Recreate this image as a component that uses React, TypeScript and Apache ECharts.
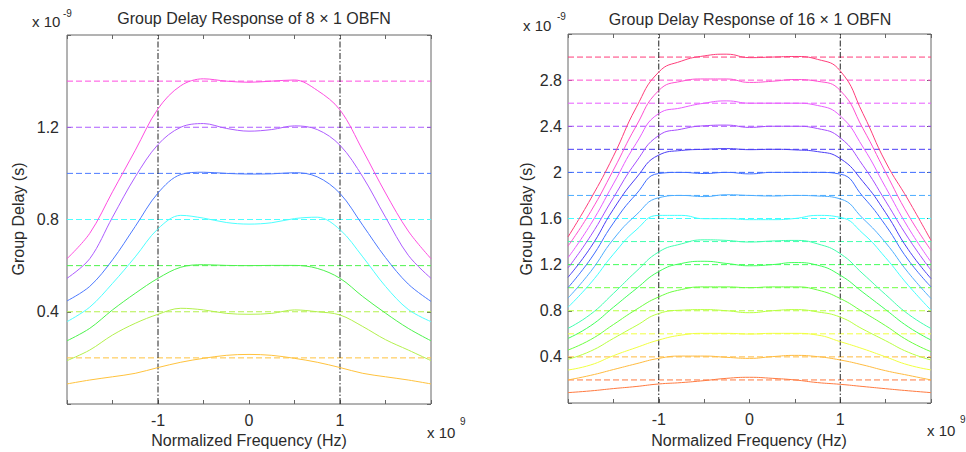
import React, { useEffect, useRef } from "react";
import * as echarts from "echarts";

// ---------- data ----------
const freq = [-2, -1.75, -1.5, -1.25, -1, -0.75, -0.5, -0.25, 0, 0.25, 0.5, 0.75, 1, 1.25, 1.5, 1.75, 2];
const passbandEdges = [-1, 1];

// 8 x 1 OBFN (units of 1e-9 s)
const levels8 = [0.2, 0.4, 0.6, 0.8, 1.0, 1.2, 1.4];
const gd8_02 = [0.087, 0.104, 0.118, 0.133, 0.158, 0.181, 0.198, 0.211, 0.215, 0.211, 0.198, 0.181, 0.158, 0.133, 0.118, 0.104, 0.087];
const gd8_04 = [0.188, 0.234, 0.299, 0.35, 0.389, 0.415, 0.408, 0.393, 0.389, 0.393, 0.408, 0.4, 0.386, 0.336, 0.279, 0.234, 0.188];
const gd8_06 = [0.274, 0.328, 0.408, 0.48, 0.545, 0.593, 0.604, 0.601, 0.6, 0.601, 0.601, 0.588, 0.545, 0.466, 0.394, 0.328, 0.274];
const gd8_08 = [0.357, 0.42, 0.523, 0.638, 0.76, 0.818, 0.806, 0.787, 0.78, 0.786, 0.804, 0.81, 0.756, 0.638, 0.51, 0.41, 0.357];
const gd8_10 = [0.447, 0.51, 0.625, 0.77, 0.915, 0.995, 1.005, 1.0, 0.997, 0.998, 1.003, 0.985, 0.913, 0.775, 0.635, 0.52, 0.445];
const gd8_12 = [0.545, 0.63, 0.81, 0.985, 1.125, 1.2, 1.216, 1.195, 1.183, 1.19, 1.206, 1.19, 1.122, 0.985, 0.81, 0.645, 0.545];
const gd8_14 = [0.63, 0.74, 0.92, 1.1, 1.28, 1.38, 1.41, 1.4, 1.395, 1.4, 1.405, 1.36, 1.275, 1.1, 0.915, 0.75, 0.63];
const curves8 = [gd8_02, gd8_04, gd8_06, gd8_08, gd8_10, gd8_12, gd8_14];

// 16 x 1 OBFN (units of 1e-9 s)
const levels16 = [0.2, 0.4, 0.6, 0.8, 1.0, 1.2, 1.4, 1.6, 1.8, 2.0, 2.2, 2.4, 2.6, 2.8, 3.0];
const gd16_02 = [0.09, 0.105, 0.125, 0.143, 0.165, 0.177, 0.194, 0.214, 0.223, 0.214, 0.2, 0.177, 0.162, 0.143, 0.124, 0.106, 0.09];
const gd16_04 = [0.2, 0.24, 0.29, 0.34, 0.387, 0.407, 0.407, 0.396, 0.387, 0.402, 0.413, 0.402, 0.373, 0.33, 0.28, 0.24, 0.2];
const gd16_06 = [0.286, 0.33, 0.41, 0.48, 0.546, 0.589, 0.604, 0.604, 0.598, 0.604, 0.604, 0.589, 0.532, 0.47, 0.4, 0.33, 0.287];
const gd16_08 = [0.379, 0.45, 0.56, 0.67, 0.776, 0.805, 0.81, 0.8, 0.783, 0.8, 0.81, 0.79, 0.745, 0.64, 0.54, 0.44, 0.373];
const gd16_10 = [0.459, 0.55, 0.68, 0.81, 0.92, 0.984, 1.007, 1.007, 1.0, 1.007, 1.007, 0.98, 0.906, 0.79, 0.67, 0.54, 0.445];
const gd16_12 = [0.56, 0.67, 0.83, 0.99, 1.14, 1.21, 1.229, 1.21, 1.19, 1.2, 1.218, 1.195, 1.108, 0.96, 0.81, 0.66, 0.546];
const gd16_14 = [0.647, 0.77, 0.95, 1.14, 1.31, 1.38, 1.415, 1.41, 1.396, 1.405, 1.41, 1.38, 1.295, 1.12, 0.94, 0.77, 0.646];
const gd16_16 = [0.83, 1.04, 1.29, 1.5, 1.627, 1.627, 1.598, 1.598, 1.59, 1.59, 1.6, 1.627, 1.61, 1.47, 1.26, 1.02, 0.805];
const gd16_18 = [0.91, 1.14, 1.42, 1.63, 1.78, 1.8, 1.79, 1.806, 1.8, 1.795, 1.8, 1.795, 1.77, 1.6, 1.39, 1.13, 0.906];
const gd16_20 = [1.0, 1.25, 1.56, 1.81, 1.99, 2.0, 1.99, 2.0, 1.987, 2.0, 2.0, 2.0, 1.985, 1.79, 1.54, 1.24, 1.007];
const gd16_22 = [1.09, 1.35, 1.68, 1.95, 2.15, 2.19, 2.2, 2.206, 2.197, 2.2, 2.195, 2.18, 2.12, 1.92, 1.65, 1.33, 1.079];
const gd16_24 = [1.17, 1.45, 1.78, 2.09, 2.32, 2.375, 2.404, 2.41, 2.39, 2.4, 2.4, 2.38, 2.3, 2.06, 1.75, 1.43, 1.151];
const gd16_26 = [1.26, 1.55, 1.9, 2.25, 2.51, 2.56, 2.6, 2.62, 2.6, 2.6, 2.6, 2.58, 2.49, 2.22, 1.87, 1.52, 1.223];
const gd16_28 = [1.36, 1.66, 2.02, 2.4, 2.71, 2.79, 2.81, 2.81, 2.78, 2.79, 2.805, 2.79, 2.71, 2.38, 2.0, 1.63, 1.324];
const gd16_30 = [1.44, 1.77, 2.14, 2.56, 2.87, 2.965, 3.01, 3.025, 2.995, 3.0, 3.005, 2.98, 2.88, 2.51, 2.09, 1.76, 1.41];
const curves16 = [gd16_02, gd16_04, gd16_06, gd16_08, gd16_10, gd16_12, gd16_14, gd16_16, gd16_18, gd16_20, gd16_22, gd16_24, gd16_26, gd16_28, gd16_30];

// ---------- styles ----------
const colors8 = ["#ffc23d", "#b3f04d", "#4df24d", "#4dffff", "#4d7aff", "#ad5cff", "#ff4de0"];
const colors16 = [
  "#ff7a40", "#ffbb40", "#f0ff40", "#b8ff40", "#6cff40", "#40ff5a", "#40ffae", "#40ffff",
  "#4dadff", "#3d6bff", "#4a3df5", "#a64dff", "#e85cff", "#ff4fd0", "#ff3d7a",
];

const FONT = "'Liberation Sans', Arial, sans-serif";
const TXT = "#2b2b2b";
const AX = "#666666";

function buildOption() {
  const grids = [
    { left: 67, top: 35, width: 364, height: 369, show: true, borderColor: AX, borderWidth: 1, backgroundColor: "#fff" },
    { left: 568, top: 34, width: 363, height: 369, show: true, borderColor: AX, borderWidth: 1, backgroundColor: "#fff" },
  ];
  const yMax = [1.6, 3.2];
  const xLabel = (v: number) => (Math.abs(v - Math.round(v)) < 1e-9 && Math.abs(v) < 1.5 ? String(Math.round(v)) : "");
  const tick = { show: true, inside: true, length: 4, lineStyle: { color: AX, width: 1 } };
  const noLine = { show: false, onZero: false };
  const xAxes: any[] = [];
  const yAxes: any[] = [];
  [0, 1].forEach((g) => {
    xAxes.push({
      type: "value", gridIndex: g, min: -2, max: 2, interval: 0.5, position: "bottom",
      axisLine: noLine, axisTick: tick, splitLine: { show: false },
      axisLabel: { formatter: xLabel, color: TXT, fontSize: 16, fontFamily: FONT, margin: 8 },
    });
  });
  [0, 1].forEach((g) => {
    xAxes.push({
      type: "value", gridIndex: g, min: -2, max: 2, interval: 0.5, position: "top",
      axisLine: noLine, axisTick: tick, splitLine: { show: false }, axisLabel: { show: false },
    });
  });
  [0, 1].forEach((g) => {
    const m = yMax[g];
    yAxes.push({
      type: "value", gridIndex: g, min: 0, max: m, interval: 0.4, position: "left",
      axisLine: noLine, axisTick: tick, splitLine: { show: false },
      axisLabel: {
        formatter: (v: number) => (v > 1e-6 && v < m - 1e-6 ? String(Math.round(v * 10) / 10) : ""),
        color: TXT, fontSize: 16, fontFamily: FONT, margin: g === 0 ? 8 : 6,
      },
    });
  });
  [0, 1].forEach((g) => {
    yAxes.push({
      type: "value", gridIndex: g, min: 0, max: yMax[g], interval: 0.4, position: "right",
      axisLine: noLine, axisTick: tick, splitLine: { show: false }, axisLabel: { show: false },
    });
  });

  const series: any[] = [];
  const addPanel = (g: number, levels: number[], curves: number[][], colors: string[], smooth: number) => {
    levels.forEach((L, i) => {
      series.push({
        type: "line", xAxisIndex: g, yAxisIndex: g, silent: true, showSymbol: false, symbol: "none",
        data: [[-2, L], [2, L]],
        lineStyle: { color: colors[i], width: 1, type: [6, 3] },
        z: 2,
      });
    });
    passbandEdges.forEach((v) => {
      series.push({
        type: "line", xAxisIndex: g, yAxisIndex: g, silent: true, showSymbol: false, symbol: "none",
        data: [[v, 0], [v, yMax[g]]],
        lineStyle: { color: "#222", width: 1, type: [6, 2, 1.5, 2] },
        z: 3,
      });
    });
    curves.forEach((ys, i) => {
      series.push({
        type: "line", xAxisIndex: g, yAxisIndex: g, silent: true, showSymbol: false, symbol: "none",
        smooth,
        data: freq.map((x, k) => [x, ys[k]]),
        lineStyle: { color: colors[i], width: 1 },
        z: 4,
      });
    });
  };
  addPanel(0, levels8, curves8, colors8, 0.35);
  addPanel(1, levels16, curves16, colors16, 0.5);

  const txt = (text: string, x: number, y: number, size: number, align = "center", rotation = 0) => ({
    type: "text", x, y, rotation, silent: true,
    style: { text, fontSize: size, fontFamily: FONT, fill: TXT, align, verticalAlign: "middle" },
  });

  const graphic = [
    txt("Group Delay Response of 8 \u00d7 1 OBFN", 254, 18, 16),
    txt("Group Delay Response of 16 \u00d7 1 OBFN", 750, 19, 16),
    txt("x 10", 32, 21, 15, "left"),
    txt("-9", 63, 13, 10, "left"),
    txt("x 10", 523, 25, 15, "left"),
    txt("-9", 557, 16, 10, "left"),
    txt("x 10", 427, 432, 15, "left"),
    txt("9", 460, 421, 10, "left"),
    txt("x 10", 927, 430, 15, "left"),
    txt("9", 960, 419, 10, "left"),
    txt("Normalized Frequency (Hz)", 249, 440, 16),
    txt("Normalized Frequency (Hz)", 749, 440, 16),
    txt("Group Delay (s)", 18, 219, 16, "center", Math.PI / 2),
    txt("Group Delay (s)", 526, 219, 16, "center", Math.PI / 2),
  ];

  return {
    animation: false,
    backgroundColor: "#fff",
    grid: grids,
    xAxis: xAxes,
    yAxis: yAxes,
    series,
    graphic,
  };
}

export default function App() {
  const ref = useRef<HTMLDivElement>(null);
  useEffect(() => {
    document.body.style.margin = "0";
    const chart = echarts.init(ref.current!, null, { renderer: "svg" });
    chart.setOption(buildOption() as any);
    return () => chart.dispose();
  }, []);
  return <div ref={ref} style={{ width: 966, height: 452 }} />;
}
